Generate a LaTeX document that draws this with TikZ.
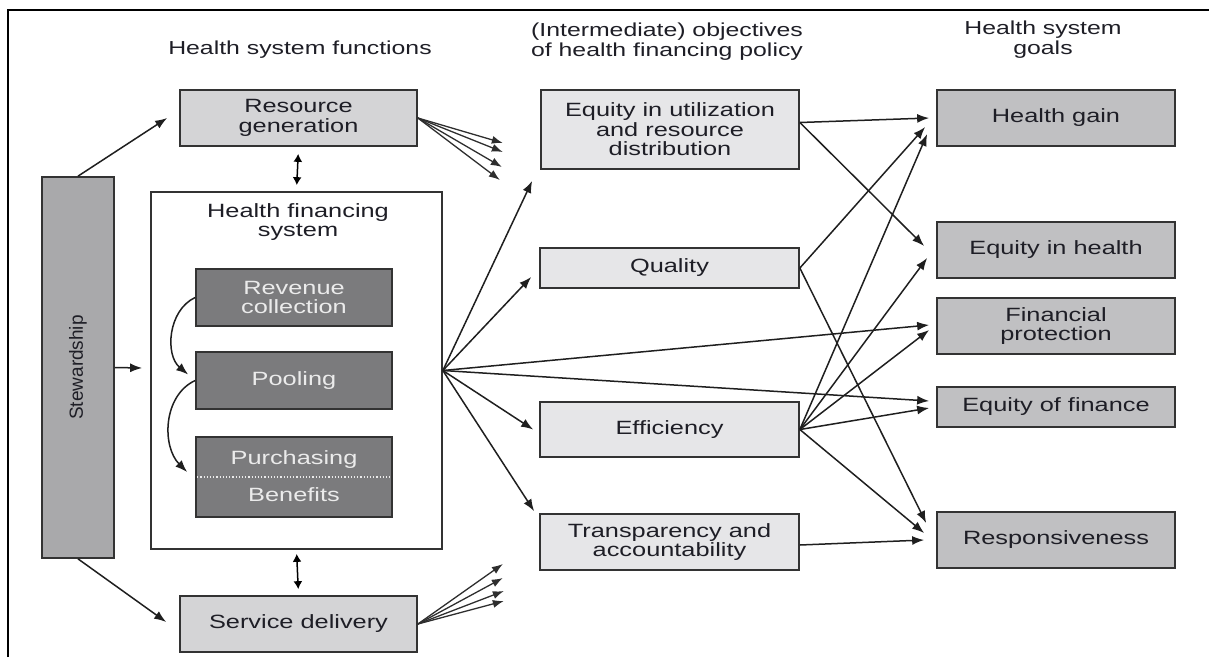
\documentclass[tikz,border=0pt]{standalone}
\usepackage{fontspec}
\setmainfont[FakeStretch=1.32]{Liberation Sans}
\newfontfamily\stewfont{Liberation Sans}
\usetikzlibrary{arrows.meta}

\definecolor{boxline}{HTML}{333333}
\definecolor{txtcol}{HTML}{1E1E26}
\definecolor{midfill}{HTML}{E6E6E8}
\definecolor{funcfill}{HTML}{D4D4D6}
\definecolor{goalfill}{HTML}{C0C0C2}
\definecolor{stewfill}{HTML}{A9A9AB}
\definecolor{darkfill}{HTML}{7B7B7D}
\definecolor{lighttxt}{HTML}{EBEBEB}

\newcommand\bxfont{\fontsize{19.2}{19.5}\selectfont}
\newcommand\hdfont{\fontsize{18.8}{20}\selectfont}

\begin{document}
\begin{tikzpicture}[x=1pt,y=-1pt,
    box/.style={rectangle, draw=boxline, line width=1.7pt, inner sep=0pt,
      align=center, text=txtcol, font=\bxfont},
    funcbox/.style={box, fill=funcfill, minimum width=237pt, minimum height=56pt},
    midbox/.style={box, fill=midfill, minimum width=259pt, minimum height=56pt},
    goalbox/.style={box, fill=goalfill, minimum width=238pt, minimum height=56pt},
    darkbox/.style={box, fill=darkfill, text=lighttxt, minimum width=196pt, minimum height=57pt},
    heading/.style={align=center, inner sep=0pt, text=txtcol, font=\hdfont},
    arr/.style={-{Latex[length=12pt,width=9pt]}, line width=1.5pt, draw=black!88},
    fan/.style={-{Latex[length=11pt,width=8pt]}, line width=1.3pt, draw=black!82},
    dbl/.style={{Latex[length=8pt,width=9pt]}-{Latex[length=8pt,width=9pt]}, line width=1.5pt}
  ]
  \useasboundingbox (0,0) rectangle (1209,657);

  % frame
  \draw[line width=2.5pt] (8,657) -- (8,10) -- (1209,10);

  % column headings
  \node[heading] (hfunc) at (300,50) {Health system functions};
  \node[heading] (hobj) at (667,42) {(Intermediate) objectives\\of health financing policy};
  \node[heading] (hgoal) at (1043,40) {Health system\\goals};

  % health system functions
  \node[rectangle, draw=boxline, line width=1.7pt, fill=stewfill, minimum width=72pt,
    minimum height=381pt, inner sep=0pt] (stew) at (78,367.5) {};
  \node[rotate=90, text=txtcol, font=\stewfont\fontsize{19}{20}\selectfont] (stewtxt) at (stew.center) {Stewardship};
  \node[funcbox] (rgen) at (298.5,118) {Resource\\generation};
  \node[rectangle, draw=boxline, line width=1.7pt, fill=white, minimum width=291pt,
    minimum height=357pt, inner sep=0pt] (hfs) at (296.5,370.5) {};
  \node[heading, font=\bxfont] (hfstxt) at (298,222) {Health financing\\system};
  \node[darkbox] (rev) at (294,297.5) {Revenue\\collection};
  \node[darkbox] (pool) at (294,380.5) {Pooling};
  \node[darkbox, minimum height=80pt] (purch) at (294,477) {};
  \draw[lighttxt, line width=1.2pt, dotted] ([xshift=2pt]purch.west) -- ([xshift=-2pt]purch.east);
  \node[heading, font=\bxfont, text=lighttxt] (purchtxt) at (294,460) {Purchasing};
  \node[heading, font=\bxfont, text=lighttxt] (bentxt) at (294,495) {Benefits};
  \node[funcbox] (sdel) at (298.5,624) {Service delivery};

  % intermediate objectives
  \node[midbox, minimum width=258pt, minimum height=79pt] (util) at (670,129.5) {Equity in utilization\\and resource\\distribution};
  \node[midbox, minimum height=40pt] (qual) at (669.5,268) {Quality};
  \node[midbox, minimum height=55pt] (eff) at (669.5,429.5) {Efficiency};
  \node[midbox] (transp) at (669.5,542) {Transparency and\\accountability};

  % goals
  \node[goalbox] (hgain) at (1056,118) {Health gain};
  \node[goalbox] (eqh) at (1056,250) {Equity in health};
  \node[goalbox] (finp) at (1056,326) {Financial\\protection};
  \node[goalbox, minimum height=40pt] (eqf) at (1056,407) {Equity of finance};
  \node[goalbox] (resp) at (1056,540) {Responsiveness};

  % stewardship links
  \draw[arr] (stew.north) -- ([xshift=-12pt]rgen.west);
  \draw[arr] (stew.south) -- ([xshift=-13pt,yshift=2pt]sdel.west);
  \draw[arr] (stew.east) -- ([xshift=-8pt,yshift=2.5pt]hfs.west);
  \draw[dbl, shorten <=7pt, shorten >=6pt] (rgen.south) -- (hfs.north);
  \draw[dbl, shorten <=4pt, shorten >=6pt] (hfs.south) -- (sdel.north);

  % flows inside the financing system
  \draw[arr] (rev.west) to[out=205, in=140] ([xshift=-7pt,yshift=6pt]pool.west);
  \draw[arr] (pool.west) to[out=205, in=135] ([xshift=-8pt,yshift=5pt]purch.west);

  % fans to the objectives
  \foreach \dx/\dy [count=\i] in {85/-25, 85/-34, 84/-49, 82/-62} {
    \coordinate (rg\i) at ([xshift=\dx pt, yshift=\dy pt]rgen.east);
    \draw[fan] (rgen.east) -- (rg\i);
  }
  \foreach \dx/\dy [count=\i] in {85/60, 85/46, 86/33, 86/23} {
    \coordinate (sd\i) at ([xshift=\dx pt, yshift=\dy pt]sdel.east);
    \draw[fan] (sdel.east) -- (sd\i);
  }

  % financing system to objectives and goals
  \draw[arr] (hfs.east) -- ([xshift=-8pt,yshift=-11pt]util.south west);
  \draw[arr] (hfs.east) -- ([xshift=-8pt,yshift=-9pt]qual.west);
  \draw[arr] (hfs.east) -- ([xshift=-6pt]eff.west);
  \draw[arr] (hfs.east) -- ([xshift=-5pt,yshift=2pt]transp.north west);
  \draw[arr] (hfs.east) -- ([xshift=-7pt,yshift=1pt]finp.west);
  \draw[arr] (hfs.east) -- ([xshift=-7pt,yshift=6pt]eqf.west);

  % objectives to goals
  \draw[arr] ([yshift=7pt]util.east) -- ([xshift=-7pt]hgain.west);
  \draw[arr] ([yshift=7pt]util.east) -- ([xshift=-12pt,yshift=4pt]eqh.west);
  \draw[arr] (qual.east) -- ([xshift=-11pt,yshift=-9pt]hgain.west);
  \draw[arr] (qual.east) -- ([xshift=-10pt,yshift=17pt]resp.west);
  \draw[arr] (eff.east) -- ([xshift=-9pt,yshift=-16pt]hgain.west);
  \draw[arr] (eff.east) -- ([xshift=-9pt,yshift=-8pt]eqh.west);
  \draw[arr] (eff.east) -- ([xshift=-7pt,yshift=-4pt]finp.west);
  \draw[arr] (eff.east) -- ([xshift=-7pt,yshift=-1pt]eqf.west);
  \draw[arr] (eff.east) -- ([xshift=-12pt,yshift=7pt]resp.west);
  \draw[arr] ([yshift=-3pt]transp.east) -- ([xshift=-12pt]resp.west);
\end{tikzpicture}
\end{document}
